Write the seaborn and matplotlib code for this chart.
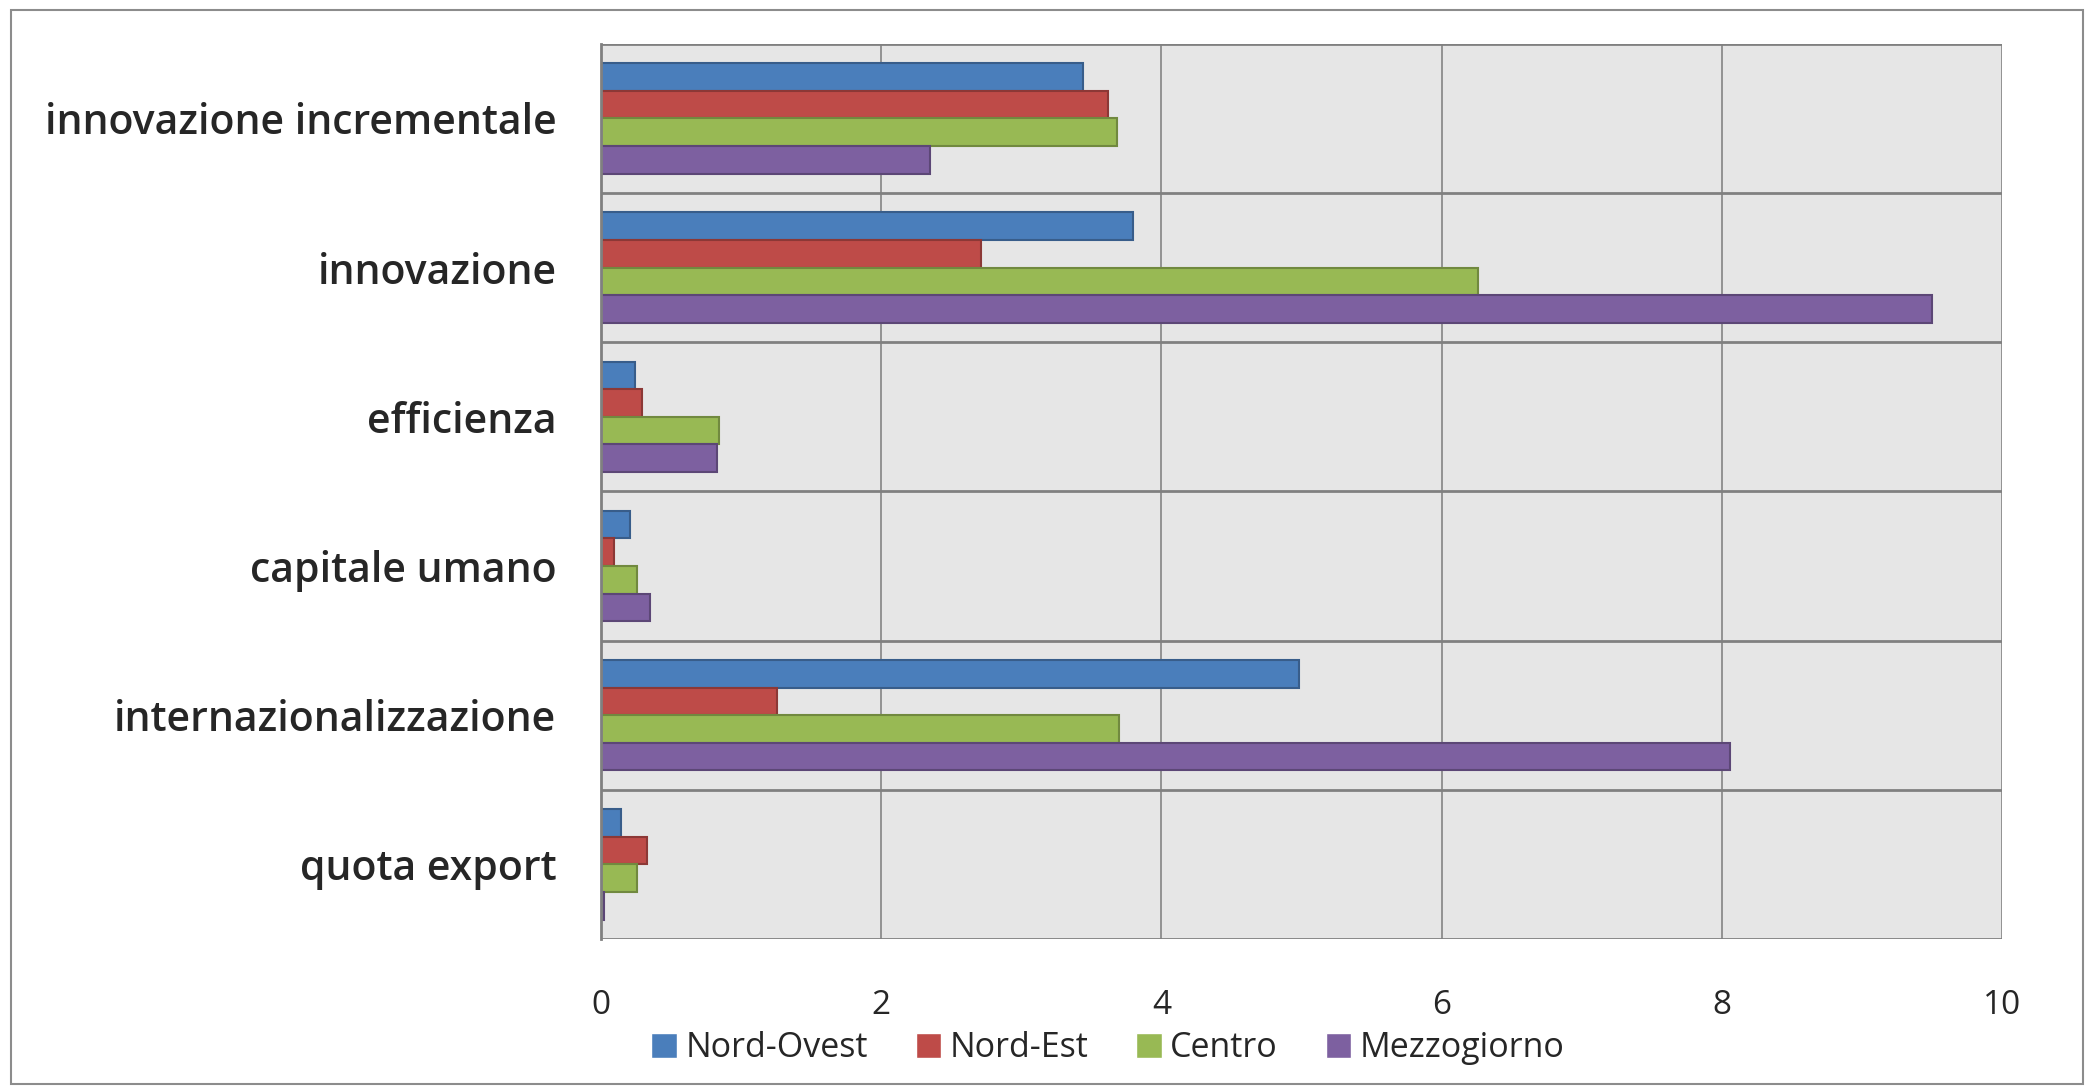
import matplotlib
matplotlib.use("Agg")
import matplotlib.pyplot as plt
from matplotlib.patches import Rectangle
from matplotlib.ticker import FixedLocator
import seaborn as sns
import pandas as pd

categories = [
    "innovazione incrementale",
    "innovazione",
    "efficienza",
    "capitale umano",
    "internazionalizzazione",
    "quota export",
]
regions = ["Nord-Ovest", "Nord-Est", "Centro", "Mezzogiorno"]
nord_ovest = [3.44, 3.80, 0.245, 0.21, 4.98, 0.14]
nord_est = [3.62, 2.71, 0.295, 0.09, 1.26, 0.33]
centro = [3.68, 6.26, 0.845, 0.26, 3.70, 0.26]
mezzogiorno = [2.35, 9.50, 0.83, 0.35, 8.06, 0.02]
x_ticks = [0, 2, 4, 6, 8, 10]

colors = ["#4A7EBB", "#BE4B48", "#98B954", "#7D60A0"]
edges = ["#385D8A", "#8C3836", "#71893F", "#5C4776"]

df = pd.DataFrame({
    "categoria": categories * 4,
    "regione": [r for r in regions for _ in categories],
    "valore": nord_ovest + nord_est + centro + mezzogiorno,
})

sns.set_theme(style="white")
plt.rcParams["font.family"] = ["Open Sans", "DejaVu Sans"]

fig = plt.figure(figsize=(20.94, 10.89), dpi=100)
ax = fig.add_axes([0.287, 0.1377, 0.669, 0.822])

sns.barplot(data=df, y="categoria", x="valore", hue="regione",
            order=categories, hue_order=regions, palette=colors,
            saturation=1, orient="h", width=0.74, ax=ax, legend=True)

# darker outline per series
for cont, ec in zip(ax.containers, edges):
    for bar in cont:
        bar.set_edgecolor(ec)
        bar.set_linewidth(1.5)

ax.set_facecolor("#E6E6E6")
ax.set_xlim(0, 10)
ax.set_ylim(len(categories) - 0.5, -0.5)
ax.set_xticks(x_ticks)
ax.set_xticklabels([str(t) for t in x_ticks], fontsize=24)
ax.tick_params(axis="x", length=0, pad=36)
ax.tick_params(axis="y", which="major", length=0, pad=32, labelsize=29.5)
for lab in ax.get_yticklabels():
    lab.set_fontweight("semibold")

# category separators with outward ticks
ax.yaxis.set_minor_locator(FixedLocator([i - 0.5 for i in range(len(categories) + 1)]))
ax.tick_params(axis="y", which="minor", length=13, width=2, color="#808080", direction="out")
ax.grid(axis="y", which="minor", color="#808080", linewidth=2)
ax.grid(axis="x", which="major", color="#8C8C8C", linewidth=1.3)
ax.set_axisbelow(True)

for side in ["top", "right", "bottom"]:
    ax.spines[side].set_visible(False)
ax.spines["left"].set_color("#808080")
ax.spines["left"].set_linewidth(2)

ax.set_xlabel("")
ax.set_ylabel("")

handles, labels = ax.get_legend_handles_labels()
ax.legend_.remove()
fig.legend(handles, labels, loc="center", bbox_to_anchor=(1108 / 2094, 1 - 1048 / 1089),
           ncol=4, frameon=False, fontsize=24.5, handlelength=0.75, handleheight=0.75,
           handletextpad=0.25, columnspacing=1.4)

fig.patches.append(Rectangle((11 / 2094, 5 / 1089), 2072 / 2094, 1074 / 1089,
                             transform=fig.transFigure, fill=False,
                             edgecolor="#8C8C8C", linewidth=1.5))

fig.savefig("out.png", dpi=100)
